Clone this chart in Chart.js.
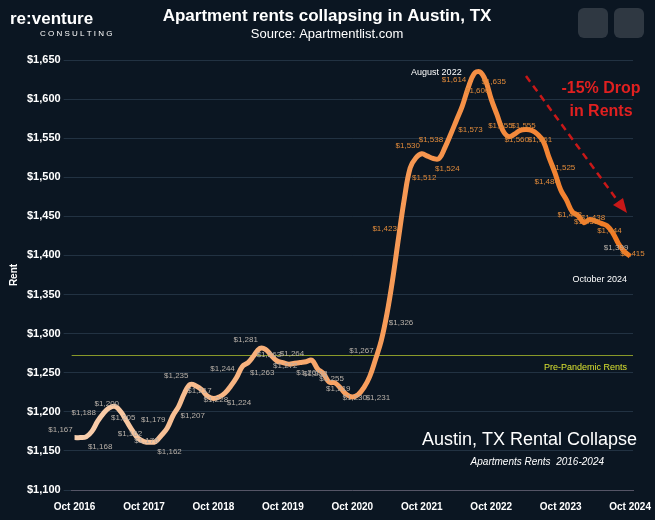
<!DOCTYPE html>
<html><head><meta charset="utf-8">
<script src="https://cdn.jsdelivr.net/npm/chart.js@4.4.0/dist/chart.umd.min.js"></script>
<style>
body{margin:0;background:#0b1622;}
#wrap{position:relative;width:655px;height:520px;}
</style></head><body>
<div id="wrap"><canvas id="c" width="655" height="520"></canvas></div>
<script>
const monthNames = ['Jan','Feb','Mar','Apr','May','Jun','Jul','Aug','Sep','Oct','Nov','Dec'];
const months = [];
for (let i = 0; i < 97; i++) { const m = (9 + i) % 12, y = 2016 + Math.floor((9 + i) / 12); months.push(monthNames[m] + ' ' + y); }
const rents = [
  1167, 1167, 1168,
  1175, 1188, 1198, 1205, 1207, 1200, 1188, 1176, 1166, 1162, 1161, 1162,
  1170, 1179, 1195, 1207, 1224, 1235, 1233, 1228, 1220, 1217, 1219, 1224,
  1233, 1244, 1258, 1263, 1272, 1281, 1280, 1272, 1265, 1263, 1261, 1262,
  1263, 1264, 1266, 1255, 1249, 1238, 1237, 1230, 1222, 1219, 1222, 1231,
  1245, 1267, 1291, 1326, 1371, 1423, 1473, 1512, 1525, 1530, 1527, 1524,
  1524, 1538, 1555, 1573, 1591, 1614, 1632, 1635, 1624, 1600, 1580, 1560,
  1552, 1555, 1560, 1561, 1560, 1555, 1546, 1525, 1506, 1484, 1471, 1456,
  1451, 1442, 1446, 1444, 1441, 1438, 1429, 1415, 1405, 1399
];
const prePandemic = 1272;
const yTicks = [1100, 1650, 50];

const fmt = v => '$' + v.toLocaleString('en-US');

const overlay = {
  id: 'overlay',
  beforeDatasetsDraw(chart) {
    const {ctx, chartArea: a, scales: {y}} = chart;
    const py = y.getPixelForValue(prePandemic);
    ctx.save();
    ctx.strokeStyle = '#8a9a2a'; ctx.lineWidth = 1;
    ctx.beginPath(); ctx.moveTo(a.left, py); ctx.lineTo(a.right, py); ctx.stroke();
    ctx.fillStyle = '#d8e030'; ctx.font = '9px Arial'; ctx.textAlign = 'right';
    ctx.fillText('Pre-Pandemic Rents', a.right - 6, py + 14);
    ctx.restore();
  },
  afterDatasetsDraw(chart) {
    const {ctx, chartArea: a, scales: {x, y}} = chart;
    ctx.save();
    ctx.font = '8px Arial'; ctx.textAlign = 'center';
    rents.forEach((v, i) => {
      if (i % 2 && i !== 96) return;
      const px = x.getPixelForValue(i), py = y.getPixelForValue(v);
      ctx.fillStyle = v > 1400 ? '#e08a3a' : '#b8b0a8';
      const up = (i / 2) % 2 === 0;
      ctx.fillText(fmt(v), px + (up ? -14 : 14), py + (up ? -6 : 12));
    });
    ctx.fillStyle = '#fff'; ctx.font = '9px Arial';
    ctx.textAlign = 'right';
    ctx.fillText('August 2022', x.getPixelForValue(70) - 18, y.getPixelForValue(1635) + 3);
    ctx.fillText('October 2024', a.right - 6, y.getPixelForValue(1399) + 26);
    ctx.fillStyle = '#e02020'; ctx.font = 'bold 16px Arial'; ctx.textAlign = 'center';
    ctx.fillText('-15% Drop', 601, 93); ctx.fillText('in Rents', 601, 116);
    ctx.strokeStyle = '#c81818'; ctx.lineWidth = 2.5; ctx.setLineDash([7, 5]);
    ctx.beginPath(); ctx.moveTo(526, 76); ctx.lineTo(620, 204); ctx.stroke();
    ctx.setLineDash([]); ctx.fillStyle = '#c81818';
    ctx.beginPath(); ctx.moveTo(627, 213); ctx.lineTo(613, 205); ctx.lineTo(623, 198); ctx.fill();
    ctx.fillStyle = '#fff'; ctx.font = '18px Arial'; ctx.textAlign = 'right';
    ctx.fillText('Austin, TX Rental Collapse', 637, 445);
    ctx.font = 'italic 10px Arial';
    ctx.fillText('Apartments Rents  2016-2024', 604, 465);
    ctx.textAlign = 'center'; ctx.font = 'bold 17px Arial';
    ctx.fillText('Apartment rents collapsing in Austin, TX', 327, 21);
    ctx.font = '13px Arial'; ctx.fillText('Source: Apartmentlist.com', 327, 38);
    ctx.textAlign = 'left'; ctx.font = 'bold 17px Arial';
    ctx.fillText('re:venture', 10, 24);
    ctx.font = '8px Arial'; ctx.fillText('C O N S U L T I N G', 40, 36);
    ctx.fillStyle = 'rgba(255,255,255,0.15)';
    [578, 614].forEach(bx => { ctx.beginPath(); ctx.roundRect(bx, 8, 30, 30, 6); ctx.fill(); });
    ctx.restore();
  }
};

new Chart(document.getElementById('c'), {
  type: 'line',
  data: {
    labels: months,
    datasets: [{
      data: rents,
      borderWidth: 5,
      pointRadius: 0,
      tension: 0.4,
      borderColor(ctx) {
        const a = ctx.chart.chartArea;
        if (!a) return '#f0a060';
        const g = ctx.chart.ctx.createLinearGradient(a.left, 0, a.right, 0);
        g.addColorStop(0, '#f8d0b0'); g.addColorStop(0.5, '#f8a060'); g.addColorStop(1, '#f07820');
        return g;
      }
    }]
  },
  options: {
    responsive: false,
    animation: false,
    layout: {padding: {top: 60, right: 22, left: 4, bottom: 4}},
    plugins: {legend: {display: false}, tooltip: {enabled: false}},
    scales: {
      x: {
        offset: true,
        grid: {display: false},
        border: {color: '#556'},
        ticks: {
          color: '#fff', font: {size: 10, weight: 'bold'}, autoSkip: false, maxRotation: 0,
          callback: (v, i) => months[i].startsWith('Oct') ? months[i] : null
        }
      },
      y: {
        min: yTicks[0], max: yTicks[1],
        grid: {color: 'rgba(120,150,180,0.22)'},
        border: {display: false},
        title: {display: true, text: 'Rent', color: '#fff', font: {size: 10, weight: 'bold'}},
        ticks: {stepSize: yTicks[2], color: '#fff', font: {size: 11, weight: 'bold'}, callback: v => fmt(v)}
      }
    }
  },
  plugins: [overlay]
});
</script>
</body></html>
